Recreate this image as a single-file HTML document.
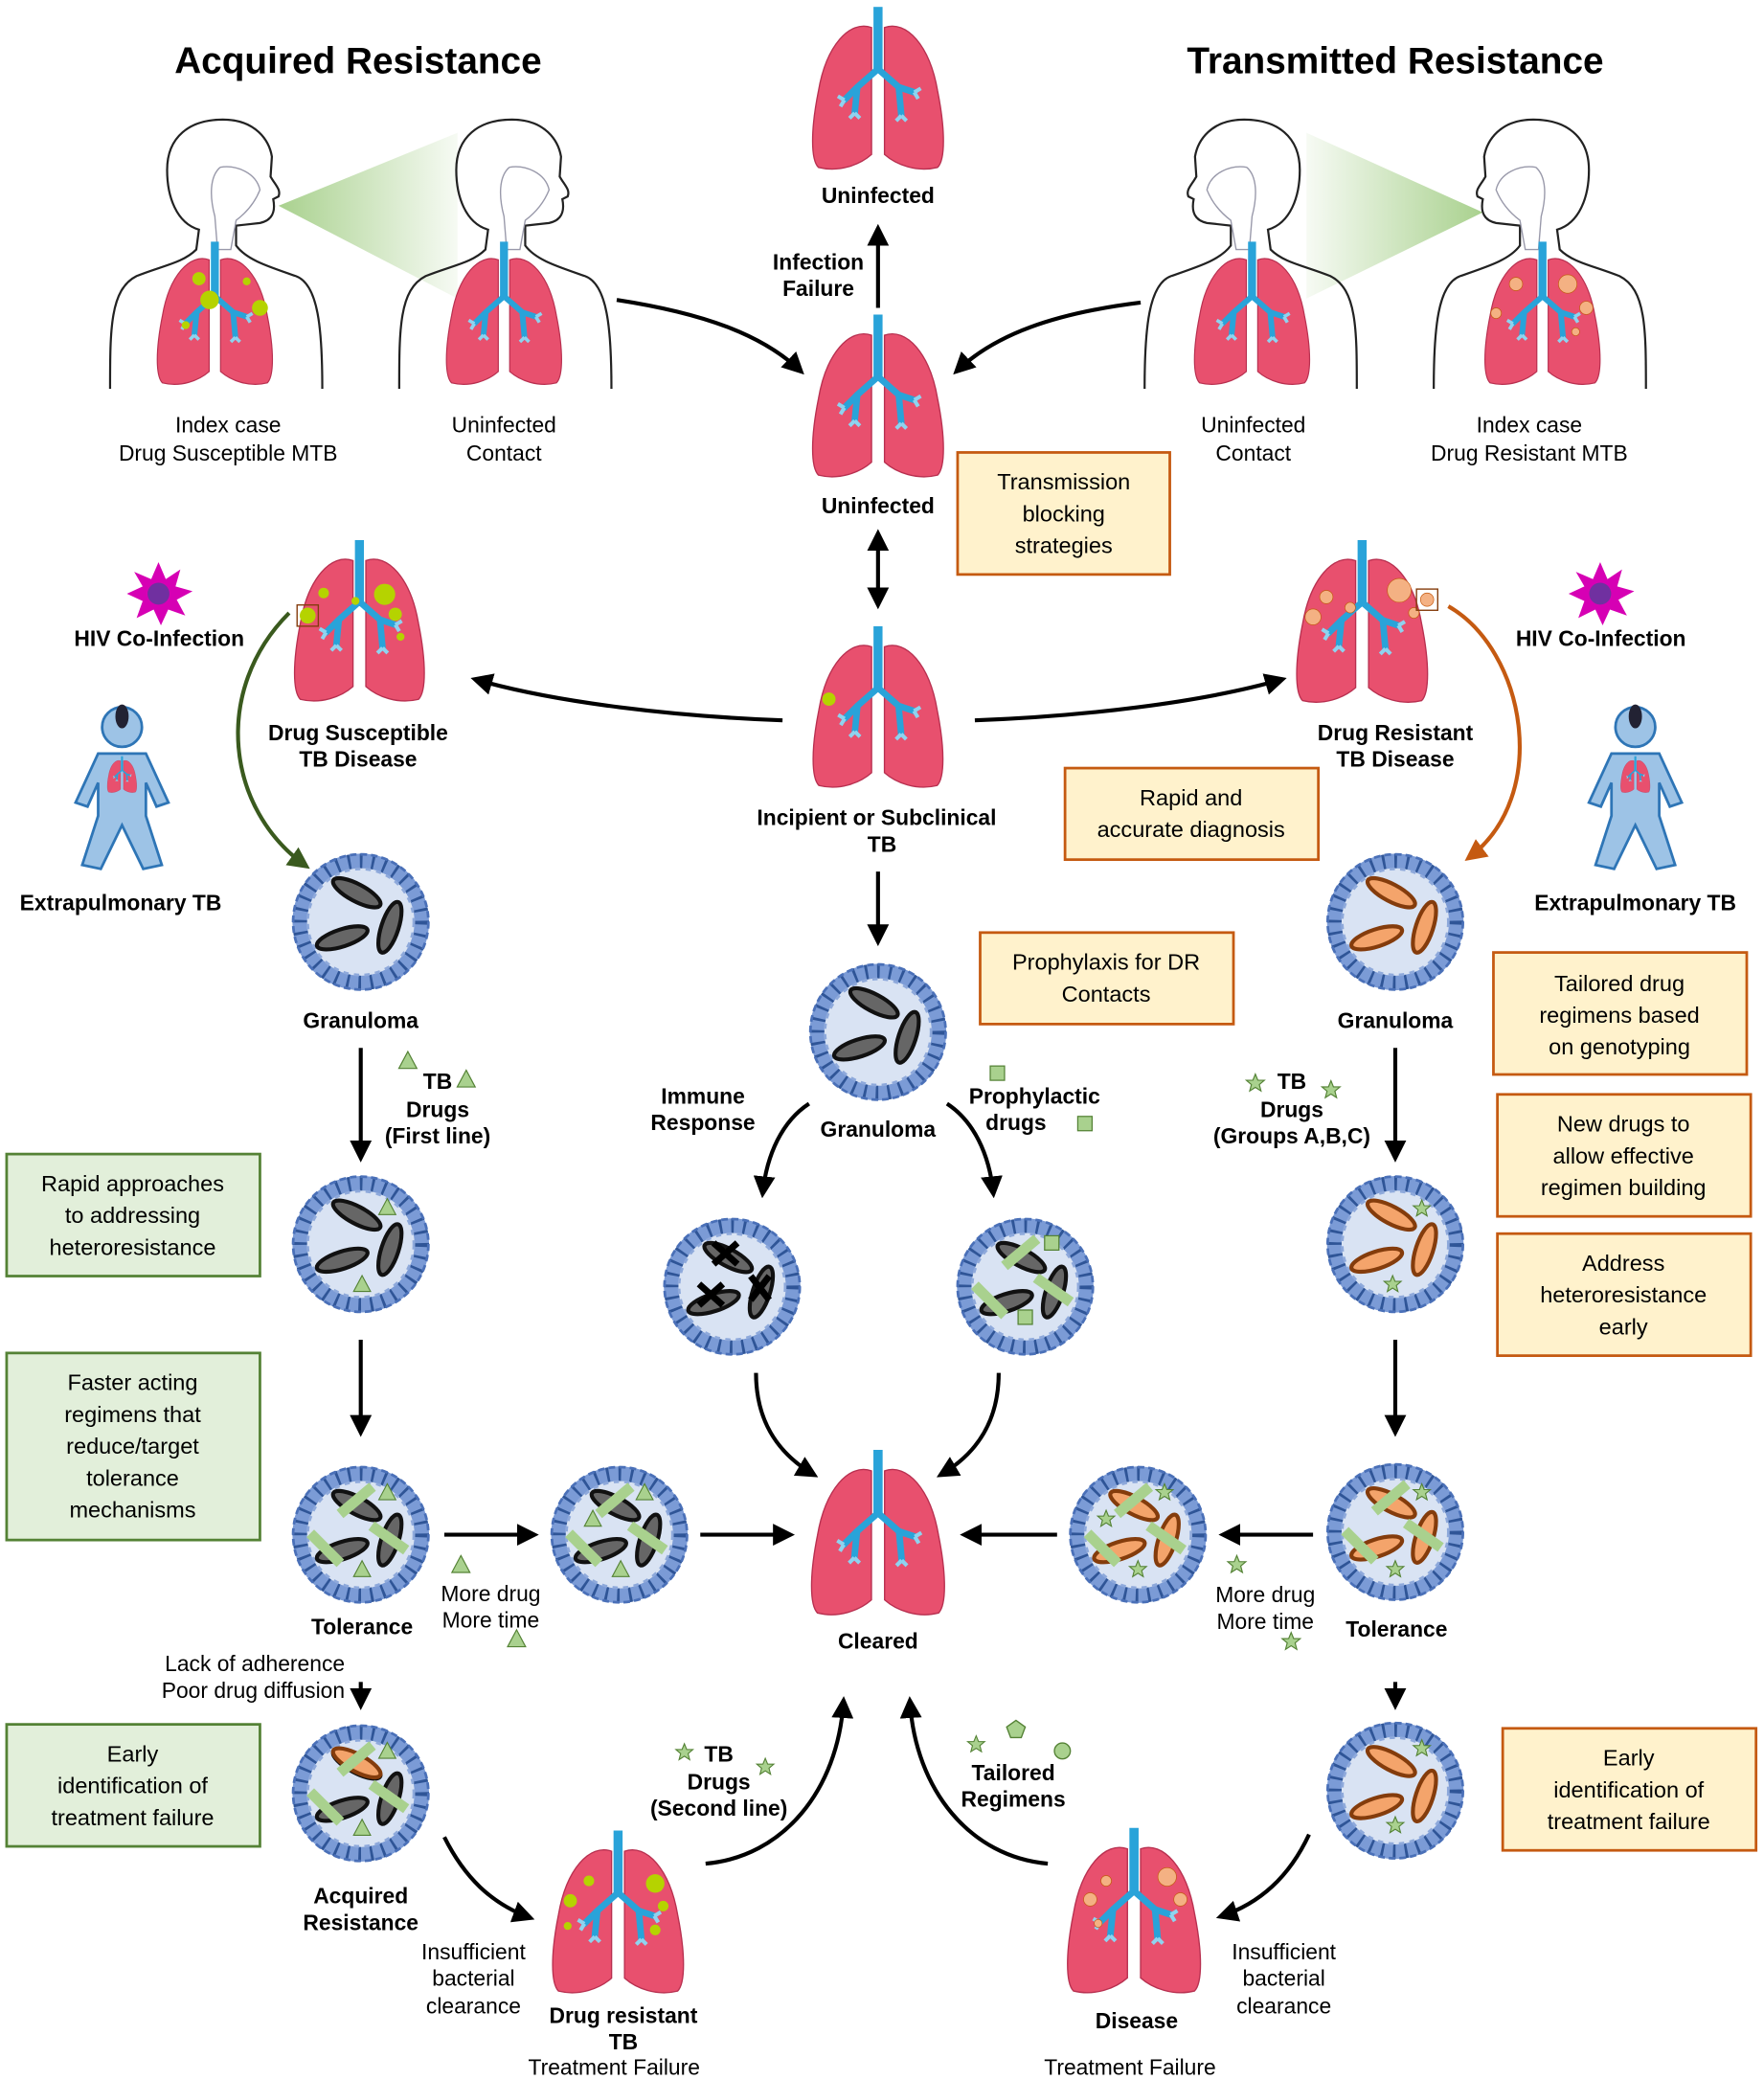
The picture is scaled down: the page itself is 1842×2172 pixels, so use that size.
<!DOCTYPE html>
<html><head><meta charset="utf-8"><style>
html,body{margin:0;padding:0;background:#fff}
svg{display:block}
text{font-family:"Liberation Sans",Arial,sans-serif;fill:#000}
.b{font-weight:bold;font-size:16.5px}
.n{font-size:16.5px}
.t{font-weight:bold;font-size:28px}
.bx{font-size:17px}
</style></head><body>
<svg width="1842" height="2172" viewBox="0 0 1330 1568" xmlns="http://www.w3.org/2000/svg">
<defs>
<marker id="ah" viewBox="0 0 10 10" refX="8" refY="5" markerWidth="5.5" markerHeight="5.5" orient="auto-start-reverse"><path d="M0,0 L10,5 L0,10 Z" fill="#000"/></marker>
<marker id="ahg" viewBox="0 0 10 10" refX="8" refY="5" markerWidth="5.5" markerHeight="5.5" orient="auto"><path d="M0,0 L10,5 L0,10 Z" fill="#3a5a1e"/></marker>
<marker id="aho" viewBox="0 0 10 10" refX="8" refY="5" markerWidth="5.5" markerHeight="5.5" orient="auto"><path d="M0,0 L10,5 L0,10 Z" fill="#c55a11"/></marker>
<linearGradient id="beam" x1="0" x2="1"><stop offset="0" stop-color="#a9d18e"/><stop offset="1" stop-color="#a9d18e" stop-opacity="0.1"/></linearGradient>
<linearGradient id="beam2" x1="1" x2="0"><stop offset="0" stop-color="#a9d18e"/><stop offset="1" stop-color="#a9d18e" stop-opacity="0.1"/></linearGradient>
<symbol id="lung" viewBox="0 0 104 128">
<path d="M47 16 C30 10 12 30 6 65 C0 95 0 118 6 124 C22 128 38 122 47 114 Z" fill="#e8506e" stroke="#b83050" stroke-width="1"/>
<path d="M57 16 C74 10 92 30 98 65 C104 95 104 118 98 124 C82 128 66 122 57 114 Z" fill="#e8506e" stroke="#b83050" stroke-width="1"/>
<rect x="48.5" y="0" width="7" height="50" fill="#29a3d9"/>
<path d="M52 48 L36 62 L26 72 M36 62 L34 82 M52 48 L68 62 L80 66 M68 62 L70 84" stroke="#29a3d9" stroke-width="5" fill="none" stroke-linecap="round"/>
<path d="M26 72 l-5 -3 M26 72 l-3 5 M34 82 l-4 4 M34 82 l4 4 M80 66 l5 -3 M80 66 l3 5 M70 84 l-4 4 M70 84 l4 4" stroke="#8fd3ef" stroke-width="3"/>
</symbol>
<symbol id="gran" viewBox="-55 -55 110 110">
<circle r="46" fill="#d9e3f3"/>
<circle r="46" fill="none" stroke="#7b9bd6" stroke-width="11"/>
<circle r="46" fill="none" stroke="#2f5597" stroke-width="11" stroke-dasharray="2 7"/>
<circle r="51" fill="none" stroke="#4a70b8" stroke-width="2" stroke-dasharray="5 3"/>
<circle r="40" fill="none" stroke="#8ea9db" stroke-width="2" stroke-dasharray="4 4"/>
</symbol>
<symbol id="bd" viewBox="-55 -55 110 110">
<ellipse cx="-3" cy="-22" rx="20" ry="6.5" transform="rotate(28 -3 -22)" fill="#666" stroke="#111" stroke-width="3"/>
<ellipse cx="-14" cy="12" rx="20" ry="6.5" transform="rotate(-18 -14 12)" fill="#666" stroke="#111" stroke-width="3"/>
<ellipse cx="22" cy="4" rx="20" ry="6.5" transform="rotate(-72 22 4)" fill="#666" stroke="#111" stroke-width="3"/>
</symbol>
<symbol id="bo" viewBox="-55 -55 110 110">
<ellipse cx="-3" cy="-22" rx="20" ry="6.5" transform="rotate(28 -3 -22)" fill="#f4a46b" stroke="#843c0c" stroke-width="3"/>
<ellipse cx="-14" cy="12" rx="20" ry="6.5" transform="rotate(-18 -14 12)" fill="#f4a46b" stroke="#843c0c" stroke-width="3"/>
<ellipse cx="22" cy="4" rx="20" ry="6.5" transform="rotate(-72 22 4)" fill="#f4a46b" stroke="#843c0c" stroke-width="3"/>
</symbol>
<symbol id="bars" viewBox="-55 -55 110 110">
<rect x="-4" y="-18" width="8" height="32" fill="#a9d18e" transform="rotate(50 0 0) translate(-22 -12)"/>
<rect x="-30" y="-6" width="8" height="32" fill="#a9d18e" transform="rotate(-45 -26 11)"/>
<rect x="18" y="-14" width="8" height="32" fill="#a9d18e" transform="rotate(-55 22 3)"/>
</symbol>
<symbol id="person" viewBox="0 0 170 210">
<path d="M5 205 C5 160 5 130 25 120 C45 112 60 110 70 100 L72 85 C55 80 48 60 48 40 C48 15 65 2 90 2 C115 2 125 18 127 30 L126 45 C130 52 134 55 132 60 L128 62 C130 72 127 78 118 80 L100 82 L100 97 C108 108 125 113 145 120 C162 126 165 160 165 205" fill="none" stroke="#222" stroke-width="1.6"/>
<path d="M88 38 C100 36 115 42 118 55 C114 65 108 72 100 78 L96 100 L86 100 L84 75 C80 60 80 45 88 38" fill="none" stroke="#99a" stroke-width="1"/>
</symbol>
<symbol id="blue" viewBox="0 0 80 130">
<circle cx="40" cy="18" r="15" fill="#9dc3e6" stroke="#2e75b6" stroke-width="2"/>
<path d="M22 38 L58 38 L75 75 L66 78 L58 60 L58 85 L70 122 L56 125 L40 92 L24 125 L10 122 L22 85 L22 60 L14 78 L5 75 Z" fill="#9dc3e6" stroke="#2e75b6" stroke-width="2"/>
<ellipse cx="40" cy="10" rx="5" ry="9" fill="#223"/>
<use href="#lung" x="28" y="40" width="24" height="28"/>
</symbol>
<symbol id="star" viewBox="-10 -10 20 20"><path d="M0,-8 L2.2,-2.6 8,-2.5 3.5,1.3 5,7 0,3.8 -5,7 -3.5,1.3 -8,-2.5 -2.2,-2.6Z" fill="#a9d18e" stroke="#548235" stroke-width="1"/></symbol>
<symbol id="tri" viewBox="-10 -10 20 20"><path d="M0,-8 L8,7 L-8,7Z" fill="#a9d18e" stroke="#548235" stroke-width="1"/></symbol>
<symbol id="sq" viewBox="-10 -10 20 20"><rect x="-6" y="-6" width="12" height="12" fill="#a9d18e" stroke="#548235" stroke-width="1"/></symbol>
<symbol id="hiv" viewBox="-30 -30 60 60"><path d="M0,-26 L6,-12 18,-20 14,-6 28,-2 15,5 22,18 8,13 2,26 -4,13 -18,20 -13,6 -26,0 -13,-6 -20,-18 -6,-12Z" fill="#d600b4"/><circle r="9" fill="#7030a0"/></symbol>
</defs>

<!-- titles -->
<text class="t" x="270" y="55" text-anchor="middle">Acquired Resistance</text>
<text class="t" x="1052" y="55" text-anchor="middle">Transmitted Resistance</text>

<!-- people top-left -->
<polygon points="210,155 345,100 345,225" fill="url(#beam)"/>
<use href="#person" x="78" y="88" width="170" height="210"/>
<use href="#person" x="296" y="88" width="170" height="210"/>
<use href="#lung" x="114" y="182" width="96" height="110"/>
<use href="#lung" x="332" y="182" width="96" height="110"/>
<g fill="#b5d300"><circle cx="150" cy="210" r="5"/><circle cx="158" cy="226" r="7"/><circle cx="196" cy="232" r="6"/><circle cx="186" cy="212" r="3"/><circle cx="140" cy="245" r="3"/></g>
<text class="n" x="172" y="326" text-anchor="middle">Index case</text>
<text class="n" x="172" y="347" text-anchor="middle">Drug Susceptible MTB</text>
<text class="n" x="380" y="326" text-anchor="middle">Uninfected</text>
<text class="n" x="380" y="347" text-anchor="middle">Contact</text>

<!-- people top-right -->
<polygon points="1118,160 985,100 985,225" fill="url(#beam2)"/>
<g transform="translate(1028 88) scale(-1 1)"><use href="#person" x="0" y="0" width="170" height="210"/></g>
<g transform="translate(1246 88) scale(-1 1)"><use href="#person" x="0" y="0" width="170" height="210"/></g>
<use href="#lung" x="896" y="182" width="96" height="110"/>
<use href="#lung" x="1115" y="182" width="96" height="110"/>
<g fill="#f4b183" stroke="#c55a11" stroke-width="0.5"><circle cx="1143" cy="214" r="5"/><circle cx="1182" cy="214" r="7"/><circle cx="1196" cy="232" r="5"/><circle cx="1128" cy="236" r="4"/><circle cx="1188" cy="250" r="3"/></g>
<text class="n" x="945" y="326" text-anchor="middle">Uninfected</text>
<text class="n" x="945" y="347" text-anchor="middle">Contact</text>
<text class="n" x="1153" y="326" text-anchor="middle">Index case</text>
<text class="n" x="1153" y="347" text-anchor="middle">Drug Resistant MTB</text>

<!-- center column -->
<use href="#lung" x="610" y="5" width="104" height="125"/>
<text class="b" x="662" y="153" text-anchor="middle">Uninfected</text>
<line x1="662" y1="232" x2="662" y2="172" stroke="#000" stroke-width="3" marker-end="url(#ah)"/>
<text class="b" x="617" y="203" text-anchor="middle">Infection</text>
<text class="b" x="617" y="223" text-anchor="middle">Failure</text>
<use href="#lung" x="610" y="237" width="104" height="125"/>
<text class="b" x="662" y="387" text-anchor="middle">Uninfected</text>
<path d="M465 226 C530 236 575 252 604 280" fill="none" stroke="#000" stroke-width="3" marker-end="url(#ah)"/>
<path d="M860 228 C795 236 750 252 721 280" fill="none" stroke="#000" stroke-width="3" marker-end="url(#ah)"/>
<rect x="722" y="341" width="160" height="92" fill="#fff2cc" stroke="#c55a11" stroke-width="2"/>
<text class="bx" x="802" y="369" text-anchor="middle">Transmission</text>
<text class="bx" x="802" y="393" text-anchor="middle">blocking</text>
<text class="bx" x="802" y="417" text-anchor="middle">strategies</text>
<line x1="662" y1="402" x2="662" y2="456" stroke="#000" stroke-width="3" marker-start="url(#ah)" marker-end="url(#ah)"/>
<use href="#lung" x="610" y="472" width="104" height="124"/>
<circle cx="625" cy="527" r="5" fill="#b5d300"/>
<text class="b" x="661" y="622" text-anchor="middle">Incipient or Subclinical</text>
<text class="b" x="665" y="642" text-anchor="middle">TB</text>
<path d="M590 543 C510 540 420 530 358 512" fill="none" stroke="#000" stroke-width="3" marker-end="url(#ah)"/>
<path d="M735 543 C815 540 905 530 967 512" fill="none" stroke="#000" stroke-width="3" marker-end="url(#ah)"/>
<line x1="662" y1="657" x2="662" y2="710" stroke="#000" stroke-width="3" marker-end="url(#ah)"/>

<rect x="803" y="579" width="191" height="69" fill="#fff2cc" stroke="#c55a11" stroke-width="2"/>
<text class="bx" x="898" y="607" text-anchor="middle">Rapid and</text>
<text class="bx" x="898" y="631" text-anchor="middle">accurate diagnosis</text>
<rect x="739" y="703" width="191" height="69" fill="#fff2cc" stroke="#c55a11" stroke-width="2"/>
<text class="bx" x="834" y="731" text-anchor="middle">Prophylaxis for DR</text>
<text class="bx" x="834" y="755" text-anchor="middle">Contacts</text>

<use href="#gran" x="607" y="723" width="110" height="110"/>
<use href="#bd" x="607" y="723" width="110" height="110"/>
<text class="b" x="662" y="857" text-anchor="middle">Granuloma</text>
<text class="b" x="530" y="832" text-anchor="middle">Immune</text>
<text class="b" x="530" y="852" text-anchor="middle">Response</text>
<text class="b" x="780" y="832" text-anchor="middle">Prophylactic</text>
<text class="b" x="766" y="852" text-anchor="middle">drugs</text>
<use href="#sq" x="743" y="800" width="18" height="18"/>
<use href="#sq" x="809" y="838" width="18" height="18"/>
<path d="M610 832 C590 845 578 870 575 900" fill="none" stroke="#000" stroke-width="3" marker-end="url(#ah)"/>
<path d="M714 832 C734 845 746 870 749 900" fill="none" stroke="#000" stroke-width="3" marker-end="url(#ah)"/>

<use href="#gran" x="497" y="915" width="110" height="110"/>
<use href="#bd" x="497" y="915" width="110" height="110"/>
<g stroke="#000" stroke-width="5"><path d="M538 937 l18 16 M556 937 l-18 16 M527 968 l18 16 M545 968 l-18 16 M566 962 l14 18 M580 962 l-14 18"/></g>
<use href="#gran" x="718" y="915" width="110" height="110"/>
<use href="#bd" x="718" y="915" width="110" height="110"/>
<use href="#bars" x="718" y="915" width="110" height="110"/>
<use href="#sq" x="784" y="928" width="18" height="18"/><use href="#sq" x="764" y="984" width="18" height="18"/>

<path d="M570 1035 C570 1070 585 1095 614 1112" fill="none" stroke="#000" stroke-width="3" marker-end="url(#ah)"/>
<path d="M753 1035 C753 1070 738 1095 709 1112" fill="none" stroke="#000" stroke-width="3" marker-end="url(#ah)"/>
<use href="#lung" x="610" y="1093" width="104" height="127"/>
<text class="b" x="662" y="1243" text-anchor="middle">Cleared</text>

<!-- left column -->
<use href="#hiv" x="92" y="420" width="55" height="55"/>
<text class="b" x="120" y="487" text-anchor="middle">HIV Co-Infection</text>
<use href="#blue" x="52" y="530" width="80" height="130"/>
<text class="b" x="91" y="686" text-anchor="middle">Extrapulmonary TB</text>
<use href="#lung" x="219" y="407" width="104" height="124"/>
<g fill="#b5d300"><circle cx="232" cy="464" r="6"/><circle cx="244" cy="447" r="4"/><circle cx="290" cy="448" r="8"/><circle cx="298" cy="463" r="5"/><circle cx="268" cy="453" r="3"/><circle cx="302" cy="480" r="3"/></g>
<rect x="224" y="456" width="16" height="16" fill="none" stroke="#843c0c" stroke-width="1"/>
<text class="b" x="270" y="558" text-anchor="middle">Drug Susceptible</text>
<text class="b" x="270" y="578" text-anchor="middle">TB Disease</text>
<path d="M218 462 C160 520 170 610 231 653" fill="none" stroke="#3a5a1e" stroke-width="3" marker-end="url(#ahg)"/>
<use href="#gran" x="217" y="640" width="110" height="110"/>
<use href="#bd" x="217" y="640" width="110" height="110"/>
<text class="b" x="272" y="775" text-anchor="middle">Granuloma</text>
<line x1="272" y1="790" x2="272" y2="873" stroke="#000" stroke-width="3" marker-end="url(#ah)"/>
<use href="#tri" x="299" y="791" width="17" height="17"/><use href="#tri" x="343" y="805" width="17" height="17"/>
<text class="b" x="330" y="821" text-anchor="middle">TB</text>
<text class="b" x="330" y="842" text-anchor="middle">Drugs</text>
<text class="b" x="330" y="862" text-anchor="middle">(First line)</text>
<use href="#gran" x="217" y="883" width="110" height="110"/>
<use href="#bd" x="217" y="883" width="110" height="110"/>
<use href="#tri" x="284" y="902" width="16" height="16"/><use href="#tri" x="265" y="960" width="16" height="16"/>
<line x1="272" y1="1010" x2="272" y2="1080" stroke="#000" stroke-width="3" marker-end="url(#ah)"/>
<use href="#gran" x="217" y="1102" width="110" height="110"/>
<use href="#bd" x="217" y="1102" width="110" height="110"/>
<use href="#bars" x="217" y="1102" width="110" height="110"/>
<use href="#tri" x="284" y="1117" width="16" height="16"/><use href="#tri" x="265" y="1175" width="16" height="16"/>
<text class="b" x="273" y="1232" text-anchor="middle">Tolerance</text>
<line x1="335" y1="1157" x2="403" y2="1157" stroke="#000" stroke-width="3" marker-end="url(#ah)"/>
<use href="#tri" x="339" y="1171" width="17" height="17"/>
<text class="n" x="370" y="1207" text-anchor="middle">More drug</text>
<text class="n" x="370" y="1227" text-anchor="middle">More time</text>
<use href="#tri" x="381" y="1227" width="17" height="17"/>
<use href="#gran" x="412" y="1102" width="110" height="110"/>
<use href="#bd" x="412" y="1102" width="110" height="110"/>
<use href="#bars" x="412" y="1102" width="110" height="110"/>
<use href="#tri" x="478" y="1117" width="16" height="16"/><use href="#tri" x="439" y="1137" width="16" height="16"/><use href="#tri" x="460" y="1175" width="16" height="16"/>
<line x1="528" y1="1157" x2="596" y2="1157" stroke="#000" stroke-width="3" marker-end="url(#ah)"/>
<text class="n" x="260" y="1260" text-anchor="end">Lack of adherence</text>
<text class="n" x="260" y="1280" text-anchor="end">Poor drug diffusion</text>
<line x1="272" y1="1268" x2="272" y2="1286" stroke="#000" stroke-width="3" marker-end="url(#ah)"/>
<use href="#gran" x="217" y="1297" width="110" height="110"/>
<use href="#bd" x="217" y="1297" width="110" height="110"/>
<ellipse cx="269" cy="1329" rx="20" ry="6.5" transform="rotate(28 269 1329)" fill="#f4a46b" stroke="#843c0c" stroke-width="3"/>
<use href="#bars" x="217" y="1297" width="110" height="110"/>
<use href="#tri" x="284" y="1312" width="16" height="16"/><use href="#tri" x="265" y="1370" width="16" height="16"/>
<text class="b" x="272" y="1435" text-anchor="middle">Acquired</text>
<text class="b" x="272" y="1455" text-anchor="middle">Resistance</text>
<path d="M335 1385 C350 1415 370 1435 400 1446" fill="none" stroke="#000" stroke-width="3" marker-end="url(#ah)"/>
<text class="n" x="357" y="1477" text-anchor="middle">Insufficient</text>
<text class="n" x="357" y="1497" text-anchor="middle">bacterial</text>
<text class="n" x="357" y="1518" text-anchor="middle">clearance</text>
<use href="#lung" x="414" y="1380" width="104" height="125"/>
<g fill="#b5d300"><circle cx="430" cy="1433" r="5"/><circle cx="444" cy="1418" r="4"/><circle cx="494" cy="1420" r="7"/><circle cx="500" cy="1437" r="4"/><circle cx="428" cy="1452" r="3"/><circle cx="494" cy="1455" r="4"/></g>
<text class="b" x="470" y="1525" text-anchor="middle">Drug resistant</text>
<text class="b" x="470" y="1545" text-anchor="middle">TB</text>
<text class="n" x="463" y="1564" text-anchor="middle">Treatment Failure</text>
<path d="M532 1405 C590 1400 632 1350 636 1282" fill="none" stroke="#000" stroke-width="3" marker-end="url(#ah)"/>
<use href="#star" x="508" y="1313" width="16" height="16"/><use href="#star" x="569" y="1324" width="16" height="16"/>
<text class="b" x="542" y="1328" text-anchor="middle">TB</text>
<text class="b" x="542" y="1349" text-anchor="middle">Drugs</text>
<text class="b" x="542" y="1369" text-anchor="middle">(Second line)</text>

<!-- green boxes -->
<rect x="5" y="870" width="191" height="92" fill="#e2efda" stroke="#548235" stroke-width="2"/>
<text class="bx" x="100" y="898" text-anchor="middle">Rapid approaches</text>
<text class="bx" x="100" y="922" text-anchor="middle">to addressing</text>
<text class="bx" x="100" y="946" text-anchor="middle">heteroresistance</text>
<rect x="5" y="1020" width="191" height="141" fill="#e2efda" stroke="#548235" stroke-width="2"/>
<text class="bx" x="100" y="1048" text-anchor="middle">Faster acting</text>
<text class="bx" x="100" y="1072" text-anchor="middle">regimens that</text>
<text class="bx" x="100" y="1096" text-anchor="middle">reduce/target</text>
<text class="bx" x="100" y="1120" text-anchor="middle">tolerance</text>
<text class="bx" x="100" y="1144" text-anchor="middle">mechanisms</text>
<rect x="5" y="1300" width="191" height="92" fill="#e2efda" stroke="#548235" stroke-width="2"/>
<text class="bx" x="100" y="1328" text-anchor="middle">Early</text>
<text class="bx" x="100" y="1352" text-anchor="middle">identification of</text>
<text class="bx" x="100" y="1376" text-anchor="middle">treatment failure</text>

<!-- right column -->
<use href="#hiv" x="1179" y="420" width="55" height="55"/>
<text class="b" x="1207" y="487" text-anchor="middle">HIV Co-Infection</text>
<use href="#blue" x="1193" y="530" width="80" height="130"/>
<text class="b" x="1233" y="686" text-anchor="middle">Extrapulmonary TB</text>
<use href="#lung" x="975" y="407" width="104" height="125"/>
<g fill="#f4b183" stroke="#c55a11" stroke-width="0.5"><circle cx="1000" cy="450" r="5"/><circle cx="1055" cy="445" r="9"/><circle cx="990" cy="465" r="6"/><circle cx="1066" cy="462" r="4"/><circle cx="1018" cy="458" r="4"/><circle cx="1076" cy="452" r="5"/></g>
<rect x="1068" y="444" width="16" height="16" fill="none" stroke="#843c0c" stroke-width="1"/>
<text class="b" x="1052" y="558" text-anchor="middle">Drug Resistant</text>
<text class="b" x="1052" y="578" text-anchor="middle">TB Disease</text>
<path d="M1092 457 C1150 490 1170 600 1107 647" fill="none" stroke="#c55a11" stroke-width="3" marker-end="url(#aho)"/>
<use href="#gran" x="997" y="640" width="110" height="110"/>
<use href="#bo" x="997" y="640" width="110" height="110"/>
<text class="b" x="1052" y="775" text-anchor="middle">Granuloma</text>
<line x1="1052" y1="790" x2="1052" y2="873" stroke="#000" stroke-width="3" marker-end="url(#ah)"/>
<use href="#star" x="938" y="808" width="17" height="17"/><use href="#star" x="995" y="813" width="17" height="17"/>
<text class="b" x="974" y="821" text-anchor="middle">TB</text>
<text class="b" x="974" y="842" text-anchor="middle">Drugs</text>
<text class="b" x="974" y="862" text-anchor="middle">(Groups A,B,C)</text>
<use href="#gran" x="997" y="883" width="110" height="110"/>
<use href="#bo" x="997" y="883" width="110" height="110"/>
<use href="#star" x="1064" y="903" width="16" height="16"/><use href="#star" x="1042" y="960" width="16" height="16"/>
<line x1="1052" y1="1010" x2="1052" y2="1080" stroke="#000" stroke-width="3" marker-end="url(#ah)"/>
<use href="#gran" x="997" y="1100" width="110" height="110"/>
<use href="#bo" x="997" y="1100" width="110" height="110"/>
<use href="#bars" x="997" y="1100" width="110" height="110"/>
<use href="#star" x="1064" y="1117" width="16" height="16"/><use href="#star" x="1044" y="1175" width="16" height="16"/>
<text class="b" x="1053" y="1234" text-anchor="middle">Tolerance</text>
<line x1="990" y1="1157" x2="922" y2="1157" stroke="#000" stroke-width="3" marker-end="url(#ah)"/>
<use href="#star" x="924" y="1171" width="17" height="17"/>
<text class="n" x="954" y="1208" text-anchor="middle">More drug</text>
<text class="n" x="954" y="1228" text-anchor="middle">More time</text>
<use href="#star" x="965" y="1229" width="17" height="17"/>
<use href="#gran" x="803" y="1102" width="110" height="110"/>
<use href="#bo" x="803" y="1102" width="110" height="110"/>
<use href="#bars" x="803" y="1102" width="110" height="110"/>
<use href="#star" x="870" y="1117" width="16" height="16"/><use href="#star" x="826" y="1137" width="16" height="16"/><use href="#star" x="850" y="1175" width="16" height="16"/>
<line x1="797" y1="1157" x2="727" y2="1157" stroke="#000" stroke-width="3" marker-end="url(#ah)"/>
<line x1="1052" y1="1268" x2="1052" y2="1286" stroke="#000" stroke-width="3" marker-end="url(#ah)"/>
<use href="#gran" x="997" y="1295" width="110" height="110"/>
<use href="#bo" x="997" y="1295" width="110" height="110"/>
<use href="#star" x="1064" y="1310" width="16" height="16"/><use href="#star" x="1044" y="1368" width="16" height="16"/>
<path d="M987 1383 C972 1415 950 1435 920 1445" fill="none" stroke="#000" stroke-width="3" marker-end="url(#ah)"/>
<text class="n" x="968" y="1477" text-anchor="middle">Insufficient</text>
<text class="n" x="968" y="1497" text-anchor="middle">bacterial</text>
<text class="n" x="968" y="1518" text-anchor="middle">clearance</text>
<use href="#lung" x="803" y="1378" width="104" height="127"/>
<g fill="#f4b183" stroke="#c55a11" stroke-width="0.5"><circle cx="822" cy="1432" r="5"/><circle cx="834" cy="1418" r="4"/><circle cx="880" cy="1415" r="7"/><circle cx="890" cy="1432" r="5"/><circle cx="828" cy="1450" r="3"/></g>
<text class="b" x="857" y="1529" text-anchor="middle">Disease</text>
<text class="n" x="852" y="1564" text-anchor="middle">Treatment Failure</text>
<path d="M790 1405 C732 1400 690 1350 686 1282" fill="none" stroke="#000" stroke-width="3" marker-end="url(#ah)"/>
<use href="#star" x="728" y="1307" width="16" height="16"/>
<path d="M766 1297 l7 5 -3 8 -8 0 -3 -8z" fill="#a9d18e" stroke="#548235"/>
<circle cx="801" cy="1320" r="6" fill="#a9d18e" stroke="#548235"/>
<text class="b" x="764" y="1342" text-anchor="middle">Tailored</text>
<text class="b" x="764" y="1362" text-anchor="middle">Regimens</text>

<!-- orange boxes right -->
<rect x="1126" y="718" width="191" height="92" fill="#fff2cc" stroke="#c55a11" stroke-width="2"/>
<text class="bx" x="1221" y="747" text-anchor="middle">Tailored drug</text>
<text class="bx" x="1221" y="771" text-anchor="middle">regimens based</text>
<text class="bx" x="1221" y="795" text-anchor="middle">on genotyping</text>
<rect x="1129" y="825" width="191" height="92" fill="#fff2cc" stroke="#c55a11" stroke-width="2"/>
<text class="bx" x="1224" y="853" text-anchor="middle">New drugs to</text>
<text class="bx" x="1224" y="877" text-anchor="middle">allow effective</text>
<text class="bx" x="1224" y="901" text-anchor="middle">regimen building</text>
<rect x="1129" y="930" width="191" height="92" fill="#fff2cc" stroke="#c55a11" stroke-width="2"/>
<text class="bx" x="1224" y="958" text-anchor="middle">Address</text>
<text class="bx" x="1224" y="982" text-anchor="middle">heteroresistance</text>
<text class="bx" x="1224" y="1006" text-anchor="middle">early</text>
<rect x="1133" y="1303" width="191" height="92" fill="#fff2cc" stroke="#c55a11" stroke-width="2"/>
<text class="bx" x="1228" y="1331" text-anchor="middle">Early</text>
<text class="bx" x="1228" y="1355" text-anchor="middle">identification of</text>
<text class="bx" x="1228" y="1379" text-anchor="middle">treatment failure</text>
</svg>
</body></html>
